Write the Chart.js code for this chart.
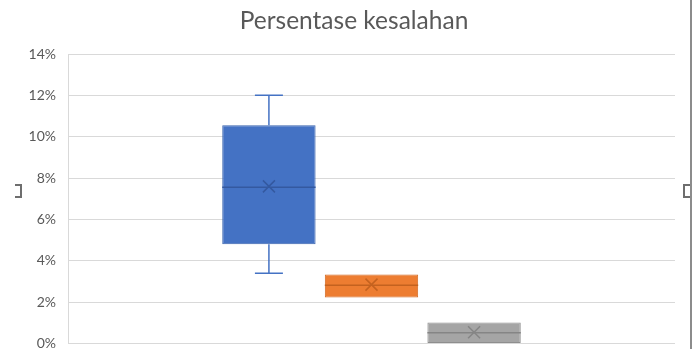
<!DOCTYPE html>
<html lang="id">
<head>
    <meta charset="UTF-8">
    <title>Persentase kesalahan</title>
    <style>
        body {
            margin: 0;
            padding: 0;
            background: #fff;
        }

        .wrap {
            position: relative;
            width: 692px;
            height: 349px;
            overflow: hidden;
        }

        .title {
            position: absolute;
            left: 0;
            top: 5px;
            width: 708px;
            text-align: center;
            font-family: Lato, sans-serif;
            font-size: 24.5px;
            color: #595959;
        }

        /* selection frame bits from the original screenshot */
        .edge {
            position: absolute;
            left: 690px;
            top: 0;
            width: 2px;
            height: 349px;
            background: #8c8c8c;
        }

        .handle {
            position: absolute;
            width: 5px;
            height: 10px;
            border: 2px solid #6e6e6e;
            background: #fff;
        }
    </style>
</head>
<body>
    <div class="wrap">
        <canvas id="chart" width="692" height="364"></canvas>
        <div class="title">Persentase kesalahan</div>
        <div class="edge"></div>
        <div class="handle" style="left: 15px; top: 184px; border-left: none;"></div>
        <div class="handle" style="left: 683px; top: 184px; border-right: none;"></div>
    </div>

    <script src="https://cdn.jsdelivr.net/npm/chart.js"></script>
    <script>
        const categories = [''];
        const seriesNames = ['Seri 1', 'Seri 2', 'Seri 3'];
        const minVals = [3.4, 2.23, 0];
        const q1Vals = [4.8, 2.23, 0];
        const medianVals = [7.56, 2.82, 0.53];
        const q3Vals = [10.56, 3.34, 1.02];
        const maxVals = [12.0, 3.34, 1.02];
        const meanVals = [7.6, 2.85, 0.55];
        const yTicks = [0, 2, 4, 6, 8, 10, 12, 14];

        const fills = ['#4472C4', '#ED7D31', '#A5A5A5'];
        const borders = ['#3A64AE', '#D26A22', '#8E8E8E'];
        const marks = ['#3459A0', '#C4621F', '#858585'];

        // whiskers, median line and mean cross for each box
        const boxExtras = {
            id: 'boxExtras',
            afterDatasetsDraw(chart) {
                const ctx = chart.ctx;
                const y = chart.scales.y;
                chart.data.datasets.forEach((ds, i) => {
                    const bar = chart.getDatasetMeta(i).data[0];
                    const x = bar.x;
                    const half = bar.width / 2;
                    const cap = bar.width * 0.15;
                    ctx.save();
                    ctx.lineWidth = 1.5;

                    // whiskers
                    ctx.strokeStyle = fills[i];
                    const yMax = y.getPixelForValue(maxVals[i]);
                    const yQ3 = y.getPixelForValue(q3Vals[i]);
                    const yMin = y.getPixelForValue(minVals[i]);
                    const yQ1 = y.getPixelForValue(q1Vals[i]);
                    if (yMax < yQ3 - 1) {
                        ctx.beginPath();
                        ctx.moveTo(x, yQ3); ctx.lineTo(x, yMax);
                        ctx.moveTo(x - cap, yMax); ctx.lineTo(x + cap, yMax);
                        ctx.stroke();
                    }
                    if (yMin > yQ1 + 1) {
                        ctx.beginPath();
                        ctx.moveTo(x, yQ1); ctx.lineTo(x, yMin);
                        ctx.moveTo(x - cap, yMin); ctx.lineTo(x + cap, yMin);
                        ctx.stroke();
                    }

                    // median
                    const yMed = y.getPixelForValue(medianVals[i]);
                    ctx.strokeStyle = marks[i];
                    ctx.beginPath();
                    ctx.moveTo(x - half, yMed); ctx.lineTo(x + half, yMed);
                    ctx.stroke();

                    // mean
                    const yMean = y.getPixelForValue(meanVals[i]);
                    const s = 6;
                    ctx.beginPath();
                    ctx.moveTo(x - s, yMean - s); ctx.lineTo(x + s, yMean + s);
                    ctx.moveTo(x - s, yMean + s); ctx.lineTo(x + s, yMean - s);
                    ctx.stroke();
                    ctx.restore();
                });
            }
        };

        const datasets = seriesNames.map((name, i) => ({
            label: name,
            data: [[q1Vals[i], q3Vals[i]]],
            backgroundColor: fills[i],
            borderColor: borders[i],
            borderWidth: 1,
            borderSkipped: false,
            categoryPercentage: 0.507,
            barPercentage: 0.91
        }));

        new Chart(document.getElementById('chart'), {
            type: 'bar',
            data: {
                labels: categories,
                datasets: datasets
            },
            options: {
                responsive: false,
                animation: false,
                layout: {
                    padding: { left: 0, right: 17, top: 54, bottom: 0 }
                },
                plugins: {
                    legend: { display: false },
                    tooltip: { enabled: false },
                    title: { display: false }
                },
                scales: {
                    x: {
                        display: false
                    },
                    y: {
                        min: 0,
                        max: 14,
                        afterBuildTicks(scale) {
                            scale.ticks = yTicks.map(v => ({ value: v }));
                        },
                        afterFit(scale) {
                            scale.width = 68;
                        },
                        grid: { color: '#d9d9d9', drawTicks: false },
                        border: { display: true, color: '#d9d9d9' },
                        ticks: {
                            padding: 12,
                            color: '#595959',
                            font: { family: 'Lato', size: 14 },
                            callback: v => v + '%'
                        }
                    }
                }
            },
            plugins: [boxExtras]
        });
    </script>
</body>
</html>
